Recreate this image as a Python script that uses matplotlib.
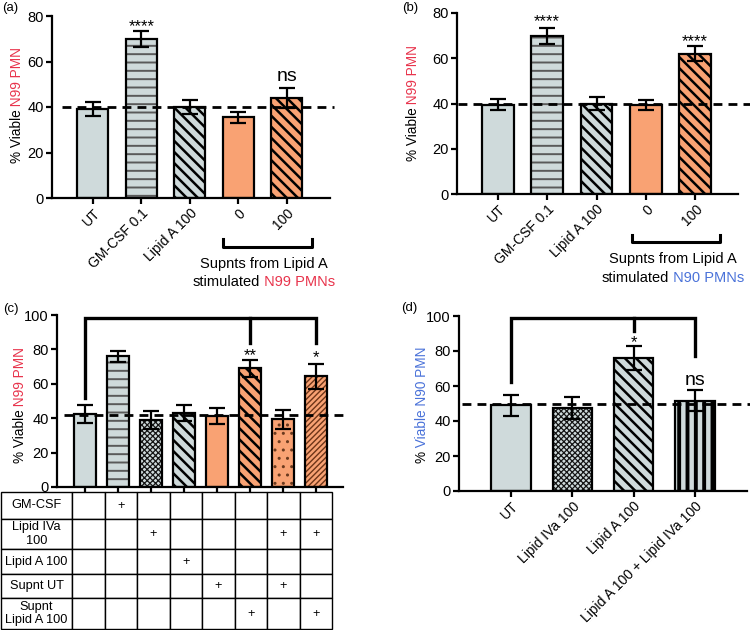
import matplotlib
matplotlib.use('Agg')
import matplotlib.pyplot as plt

plt.rcParams['font.family'] = ['Liberation Sans', 'DejaVu Sans']
plt.rcParams['hatch.linewidth'] = 1.6

W, H = 750, 630

grey = '#cfdadb'
orange = '#f9a273'
red = '#e8344c'
blue = '#4a72d9'

# panel (a)
a_labels = ['UT', 'GM-CSF 0.1', 'Lipid A 100', '0', '100']
a_vals = [39, 70, 40, 35.5, 44]
a_err = [3, 3.5, 3, 2.5, 4.5]
a_base = 40

# panel (b)
b_labels = ['UT', 'GM-CSF 0.1', 'Lipid A 100', '0', '100']
b_vals = [39.5, 70, 40, 39.5, 62]
b_err = [2.5, 3.5, 3, 2.2, 3.2]
b_base = 40

# panel (c)
c_vals = [42.4, 76, 39, 43, 41.3, 69, 39.5, 64.5]
c_err = [5, 3.2, 5, 4.7, 4.7, 4.8, 5.5, 7.3]
c_base = 42
c_rows = ['GM-CSF', 'Lipid IVa\n100', 'Lipid A 100', 'Supnt UT', 'Supnt\nLipid A 100']
c_plus = [[0, 1, 0, 0, 0, 0, 0, 0],
          [0, 0, 1, 0, 0, 0, 1, 1],
          [0, 0, 0, 1, 0, 0, 0, 0],
          [0, 0, 0, 0, 1, 0, 1, 0],
          [0, 0, 0, 0, 0, 1, 0, 1]]

# panel (d)
d_labels = ['UT', 'Lipid IVa 100', 'Lipid A 100', 'Lipid A 100 + Lipid IVa 100']
d_vals = [49, 47.5, 76, 51.5]
d_err = [6, 6.2, 7, 6]
d_base = 50

# bar looks: face, hatch, hatch colour, hatch width
STY = {
    'grey': (grey, None, None, None),
    'hlines': (grey, '--', '#5a5a5a', 1.4),
    'check': (grey, 'xxxxxx', '#151515', 0.9),
    'diag': (grey, '\\\\\\', 'black', 1.8),
    'orange': (orange, None, None, None),
    'diag_or': (orange, '\\\\\\', 'black', 1.8),
    'dots_or': (orange, '..', '#6b3a1e', 1.0),
    'fine_or': (orange, '//////', '#6e3518', 1.0),
    'vlines': (grey, '||', 'black', 2.8),
}

fig = plt.figure(figsize=(7.5, 6.3), dpi=100)


def rect(l, t, r, b):
    return [l / W, 1 - b / H, (r - l) / W, (b - t) / H]


def style_axis(ax, ymax, xlim):
    ax.set_xlim(*xlim)
    ax.set_ylim(0, ymax)
    ax.set_yticks(range(0, ymax + 1, 20))
    for s in ['top', 'right']:
        ax.spines[s].set_visible(False)
    for s in ['left', 'bottom']:
        ax.spines[s].set_linewidth(1.6)
    ax.tick_params(width=1.6, length=4, labelsize=10.5, pad=2)


def draw_bars(ax, vals, errs, looks, base, xlim, width=0.64):
    xs = list(range(len(vals)))
    for i, (v, lk) in enumerate(zip(vals, looks)):
        face, hatch, hc, hlw = STY[lk]
        b = ax.bar(i, v, width, color=face, edgecolor=hc if hatch else face,
                   hatch=hatch, linewidth=0, zorder=2)
        if hlw and hasattr(b.patches[0], 'set_hatch_linewidth'):
            b.patches[0].set_hatch_linewidth(hlw)
    ax.bar(xs, vals, width, fill=False, edgecolor='black', linewidth=1.6, zorder=3)
    ax.plot([xlim[0] + 0.2, xlim[1] + 0.08], [base, base], color='black', lw=2,
            ls=(0, (3.2, 2.2)), zorder=4, clip_on=False)
    ax.errorbar(xs, vals, yerr=errs, fmt='none', ecolor='black', elinewidth=1.6,
                capsize=6, capthick=1.6, zorder=5)
    ax.set_xticks(xs)


# (a)
axa = fig.add_axes(rect(52, 16, 330, 198))
xla = (-0.845, 4.89)
style_axis(axa, 80, xla)
draw_bars(axa, a_vals, a_err, ['grey', 'hlines', 'diag', 'orange', 'diag_or'], a_base, xla)
axa.set_xticklabels(a_labels, rotation=45, ha='right', rotation_mode='anchor', fontsize=10)
axa.text(1, 75.5, '****', ha='center', va='center', fontsize=12)
axa.text(4, 53.6, 'ns', ha='center', va='center', fontsize=14)
axa.plot([2.68, 2.68, 4.52, 4.52], [-0.225, -0.27, -0.27, -0.225], color='black', lw=2.2,
         transform=axa.get_xaxis_transform(), clip_on=False)

# (b)
axb = fig.add_axes(rect(457, 13, 738, 194))
xlb = (-0.83, 4.87)
style_axis(axb, 80, xlb)
draw_bars(axb, b_vals, b_err, ['grey', 'hlines', 'diag', 'orange', 'diag_or'], b_base, (-1.0, 5.1))
axb.set_xticklabels(b_labels, rotation=45, ha='right', rotation_mode='anchor', fontsize=10)
axb.set_xlim(*xlb)
axb.text(1, 76, '****', ha='center', va='center', fontsize=12)
axb.text(4, 67.5, '****', ha='center', va='center', fontsize=12)
axb.plot([2.72, 2.72, 4.51, 4.51], [-0.227, -0.265, -0.265, -0.227], color='black', lw=2.2,
         transform=axb.get_xaxis_transform(), clip_on=False)

# (c)
axc = fig.add_axes(rect(57, 315, 343, 487))
xlc = (-0.85, 7.82)
style_axis(axc, 100, xlc)
draw_bars(axc, c_vals, c_err, ['grey', 'hlines', 'check', 'diag', 'orange', 'diag_or',
                               'dots_or', 'fine_or'], c_base, xlc)
axc.set_xticklabels([])
axc.plot([0, 0, 7, 7], [52, 98, 98, 84], color='black', lw=2.4, solid_joinstyle='miter')
axc.plot([5, 5], [98, 84], color='black', lw=2.4)
axc.text(5, 76.5, '**', ha='center', va='center', fontsize=12)
axc.text(7, 75.5, '*', ha='center', va='center', fontsize=12)

# table under (c)
tab = fig.add_axes(rect(1, 492, 332, 629))
tab.axis('off')
cells = [[name] + ['+' if p else '' for p in row] for name, row in zip(c_rows, c_plus)]
tbl = tab.table(cellText=cells, colWidths=[71 / 331] + [32.5 / 331] * 8,
                cellLoc='center', bbox=[0, 0, 1, 1])
tbl.auto_set_font_size(False)
tbl.set_fontsize(9.2)
row_h = [27, 30, 25, 24, 31]
for (r, c), cell in tbl.get_celld().items():
    cell.set_height(row_h[r] / 137)
    cell.set_linewidth(1.0)

# (d)
axd = fig.add_axes(rect(459, 316, 747, 491))
xld = (-0.85, 3.85)
style_axis(axd, 100, xld)
draw_bars(axd, d_vals, d_err, ['grey', 'check', 'diag', 'vlines'], d_base, (-1.0, 3.97))
axd.set_xlim(*xld)
axd.set_xticklabels(d_labels, rotation=45, ha='right', rotation_mode='anchor', fontsize=10)
axd.plot([0, 0, 3, 3], [62.5, 98.7, 98.7, 77], color='black', lw=2.4, solid_joinstyle='miter')
axd.plot([2, 2], [98.7, 91.6], color='black', lw=2.4)
axd.text(2, 85, '*', ha='center', va='center', fontsize=12)
axd.text(3, 63.4, 'ns', ha='center', va='center', fontsize=14)

# overlay in pixel units for the free text
ov = fig.add_axes([0, 0, 1, 1])
ov.set_xlim(0, W)
ov.set_ylim(H, 0)
ov.axis('off')

groups = []


def color_text(x, y, parts, vertical=False, size=10):
    prev = None
    items = []
    for s, c in parts:
        if prev is None:
            t = ov.text(x, y, s, color=c, fontsize=size, rotation=90 if vertical else 0,
                        ha='center' if vertical else 'left',
                        va='bottom' if vertical else 'center')
        elif vertical:
            t = ov.annotate(s, xy=(0.5, 1), xycoords=prev, color=c, fontsize=size,
                            rotation=90, ha='center', va='bottom')
        else:
            t = ov.annotate(s, xy=(1, 0), xycoords=prev, color=c, fontsize=size,
                            ha='left', va='bottom')
        items.append(t)
        prev = t
    groups.append((x, y, items))


color_text(17, 105, [('% Viable', 'black'), (' N99 PMN', red)], vertical=True, size=9.8)
color_text(413, 103, [('% Viable', 'black'), (' N99 PMN', red)], vertical=True, size=9.8)
color_text(20, 405, [('% Viable', 'black'), (' N99 PMN', red)], vertical=True, size=9.8)
color_text(422, 405, [('%', 'black'), (' Viable N90 PMN', blue)], vertical=True, size=9.8)
color_text(264, 282, [('stimulated', 'black'), (' N99 PMNs', red)], size=10.5)
color_text(673, 278, [('stimulated', 'black'), (' N90 PMNs', blue)], size=10.5)

ov.text(264, 264, 'Supnts from Lipid A', ha='center', va='center', fontsize=10.5)
ov.text(673, 259, 'Supnts from Lipid A', ha='center', va='center', fontsize=10.5)

for lab, px, py in [('(a)', 2, 8), ('(b)', 402, 8), ('(c)', 3, 309), ('(d)', 401, 308)]:
    ov.text(px, py, lab, ha='left', va='center', fontsize=9.5)

# centre the multi-colour labels on their targets
fig.canvas.draw()
inv = ov.transData.inverted()
for x, y, items in groups:
    boxes = [t.get_window_extent() for t in items]
    x0 = min(b.x0 for b in boxes)
    x1 = max(b.x1 for b in boxes)
    y0 = min(b.y0 for b in boxes)
    y1 = max(b.y1 for b in boxes)
    cx, cy = inv.transform(((x0 + x1) / 2, (y0 + y1) / 2))
    fx, fy = items[0].get_position()
    items[0].set_position((fx + x - cx, fy + y - cy))

fig.savefig('out.png', dpi=100)
